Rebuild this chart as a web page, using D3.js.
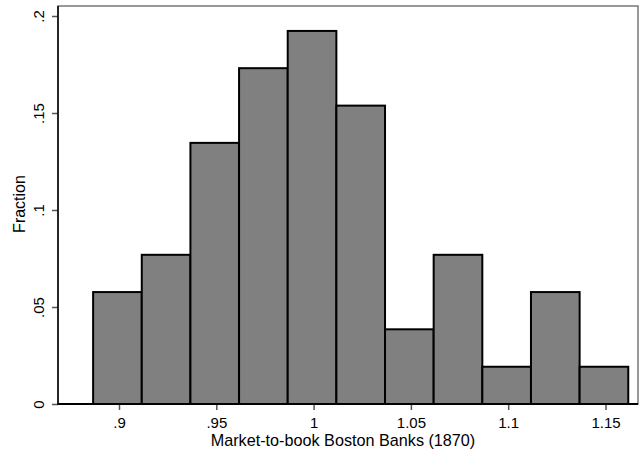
<!DOCTYPE html>
<html>
<head>
<meta charset="utf-8">
<script src="https://cdn.jsdelivr.net/npm/d3@7"></script>
<style>
  body { margin: 0; background: #fff; }
  text { font-family: Arial, "Liberation Sans", sans-serif; }
</style>
</head>
<body>
<script>
// Histogram: market-to-book ratio of Boston banks, 1870
const width = 641;
const height = 456;

// bin edges start / width, and fraction in each bin (counts out of 52)
const binStart = 0.8867;
const binWidth = 0.025;
const fractions = [0.0577, 0.0769, 0.1346, 0.1731, 0.1923, 0.1538, 0.0385, 0.0769, 0.0192, 0.0577, 0.0192];

const xTicks = [0.9, 0.95, 1, 1.05, 1.1, 1.15];
const xTickLabels = [".9", ".95", "1", "1.05", "1.1", "1.15"];
const yTicks = [0, 0.05, 0.1, 0.15, 0.2];
const yTickLabels = ["0", ".05", ".1", ".15", ".2"];

const margin = { left: 58, right: 3, top: 6, bottom: 52 };

const svg = d3.select("body").append("svg")
  .attr("width", width)
  .attr("height", height);

const x = d3.scaleLinear().domain([0.9, 1.15]).range([119, 605.5]);
const y = d3.scaleLinear().domain([0, 0.2]).range([404, 16]);

// plot box (top / right in gray)
svg.append("rect")
  .attr("x", margin.left)
  .attr("y", margin.top)
  .attr("width", width - margin.right - margin.left)
  .attr("height", 404 - margin.top)
  .attr("fill", "#fff")
  .attr("stroke", "#777")
  .attr("stroke-width", 1.5);

// bars
svg.append("g")
  .selectAll("rect")
  .data(fractions)
  .join("rect")
  .attr("x", (d, i) => x(binStart + i * binWidth))
  .attr("y", d => y(d))
  .attr("width", x(binStart + binWidth) - x(binStart))
  .attr("height", d => y(0) - y(d))
  .attr("fill", "#808080")
  .attr("stroke", "#000")
  .attr("stroke-width", 2);

// x axis
const xAxis = svg.append("g")
  .attr("transform", "translate(0,404)")
  .call(d3.axisBottom(x).tickValues(xTicks).tickSize(6).tickPadding(7)
    .tickFormat((d, i) => xTickLabels[i]));
xAxis.select(".domain").remove();
xAxis.selectAll(".tick line").attr("stroke", "#555").attr("stroke-width", 1.5);
xAxis.selectAll("text").attr("font-size", 15).attr("fill", "#000");
svg.append("line")
  .attr("x1", margin.left).attr("x2", width - margin.right)
  .attr("y1", 404).attr("y2", 404)
  .attr("stroke", "#000").attr("stroke-width", 2);

// y axis
const yAxis = svg.append("g")
  .attr("transform", `translate(${margin.left},0)`)
  .call(d3.axisLeft(y).tickValues(yTicks).tickSize(6).tickPadding(0)
    .tickFormat((d, i) => yTickLabels[i]));
yAxis.select(".domain").remove();
yAxis.selectAll(".tick line").attr("stroke", "#555").attr("stroke-width", 1.5);
yAxis.selectAll("text")
  .attr("font-size", 15)
  .attr("fill", "#000")
  .attr("x", 0)
  .attr("dy", 0)
  .attr("text-anchor", "middle")
  .attr("transform", "translate(-14,0) rotate(-90)");
svg.append("line")
  .attr("x1", margin.left).attr("x2", margin.left)
  .attr("y1", margin.top).attr("y2", 405)
  .attr("stroke", "#000").attr("stroke-width", 1.5);

// axis titles
svg.append("text")
  .attr("x", 343)
  .attr("y", 446)
  .attr("text-anchor", "middle")
  .attr("font-size", 16.2)
  .text("Market-to-book Boston Banks (1870)");

svg.append("text")
  .attr("transform", "translate(25,204) rotate(-90)")
  .attr("text-anchor", "middle")
  .attr("font-size", 16)
  .text("Fraction");
</script>
</body>
</html>
